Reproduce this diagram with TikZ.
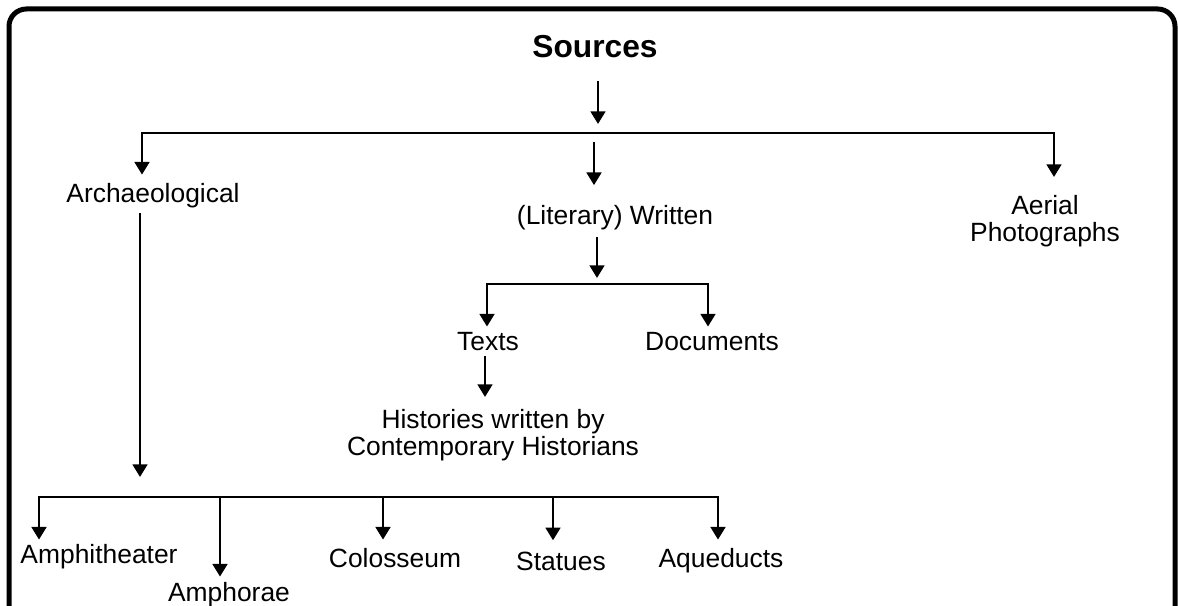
\documentclass[tikz,border=0pt]{standalone}
\usepackage{fontspec}
\setmainfont{Liberation Sans}
\usetikzlibrary{arrows.meta,calc}
\begin{document}
\begin{tikzpicture}[x=0.75pt,y=-0.75pt,
  ln/.style={line width=2pt},
  arr/.style={ln,-{Triangle[width=11pt,length=9.5pt]}},
  lbl/.style={inner sep=0pt,anchor=base,align=center,font=\fontsize{19.8pt}{20.6pt}\selectfont},
  ttl/.style={inner sep=0pt,anchor=base,font=\fontsize{23.8pt}{26pt}\selectfont\bfseries},
  frame/.style={line width=3.75pt,rounded corners=13pt}
]
\useasboundingbox (0,0) rectangle (1178,606);
\clip (0,0) rectangle (1178,606);
\draw[frame] (9,9) rectangle (1175,660);

% nodes
\node[ttl] (src) at (595,58) {Sources};
\node[lbl] (arch) at (153,203) {Archaeological};
\node[lbl,anchor=north] (aer) at (1045,195) {Aerial\\Photographs};
\node[lbl] (wri) at (615,224) {(Literary) Written};
\node[lbl] (txt) at (488,350) {Texts};
\node[lbl] (doc) at (712,350) {Documents};
\node[lbl,anchor=north] (his) at (493,409) {Histories written by\\Contemporary Historians};
\node[lbl] (amt) at (99,563) {Amphitheater};
\node[lbl] (amp) at (229,601) {Amphorae};
\node[lbl] (col) at (395,567) {Colosseum};
\node[lbl] (sta) at (561,570) {Statues};
\node[lbl] (aqu) at (721,567) {Aqueducts};

% junction coordinates
\coordinate (sJ) at (598,133);
\coordinate (bL) at (142,133);
\coordinate (bR) at (1054,133);
\coordinate (bM) at (594,133);
\coordinate (wJ) at (597,284);
\coordinate (wL) at (487,284);
\coordinate (wR) at (708,284);
\coordinate (tX) at (485,355);
\coordinate (aJ) at (140,497);
\coordinate (k1) at (39,497);
\coordinate (k2) at (220,497);
\coordinate (k3) at (383,497);
\coordinate (k4) at (553,497);
\coordinate (k5) at (718,497);

% connectors
\draw[arr,shorten <=16.5pt,shorten >=6.75pt] (src.south -| sJ) -- (sJ);
\draw[arr,shorten >=6.75pt] (bM) -- (bL) -- (bL |- arch.north);
\draw[arr,shorten >=13.5pt] (bM) -- (bR) -- (bR |- aer.north);
\draw[arr,shorten <=6.75pt,shorten >=14.6pt] (bM) -- (bM |- wri.north);

\draw[arr,shorten <=5.5pt,shorten >=4.5pt] (wri.south -| wJ) -- (wJ);
\draw[arr,shorten >=3.75pt] (wJ) -- (wL) -- (wL |- txt.north);
\draw[arr,shorten >=3.75pt] (wJ) -- (wR) -- (wR |- doc.north);
\draw[arr,shorten <=3.75pt,shorten >=9pt] (txt.south -| tX) -- (tX |- his.north);

\draw[arr,shorten <=3.4pt,shorten >=15pt] (arch.south -| aJ) -- (aJ);
\draw[arr,shorten >=3pt] (k3) -- (k1) -- (k1 |- amt.north);
\draw[arr,shorten >=6pt] (k3) -- (k5) -- (k5 |- aqu.north);
\draw[arr,shorten >=3.75pt] (k2) -- (k2 |- amp.north);
\draw[arr,shorten >=6pt] (k3) -- (k3 |- col.north);
\draw[arr,shorten >=8.25pt] (k4) -- (k4 |- sta.north);
\end{tikzpicture}
\end{document}
